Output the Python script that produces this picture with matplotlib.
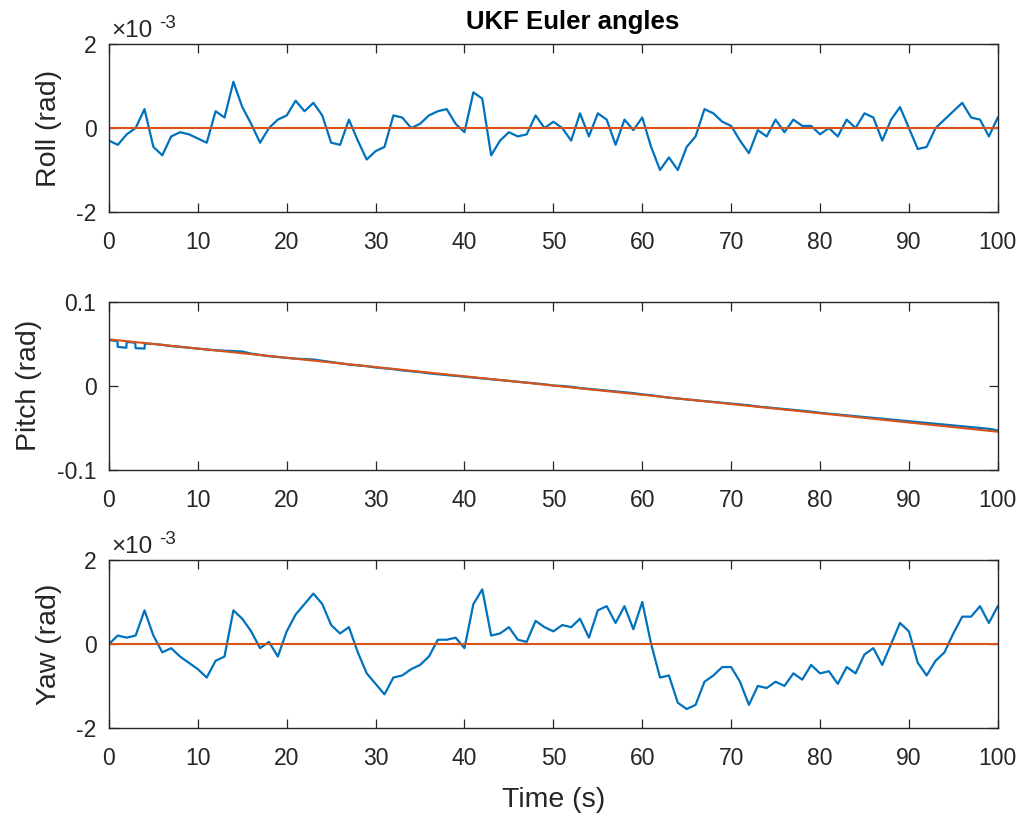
import numpy as np
import matplotlib
matplotlib.use('Agg')
import matplotlib.pyplot as plt

plt.rcParams['font.family'] = ['Liberation Sans', 'DejaVu Sans']

# time grid (s) for roll / yaw estimates, read at 1 s spacing
t_sec = list(range(0, 101))

# roll estimate, in units of 1e-3 rad
roll_est = [-0.3, -0.4, -0.15, 0.0, 0.45, -0.45, -0.65, -0.2, -0.1, -0.15,
            -0.25, -0.35, 0.4, 0.25, 1.1, 0.5, 0.1, -0.35, 0.0, 0.2,
            0.3, 0.65, 0.4, 0.6, 0.3, -0.35, -0.4, 0.2, -0.3, -0.75,
            -0.55, -0.45, 0.3, 0.25, 0.0, 0.1, 0.3, 0.4, 0.45, 0.1,
            -0.1, 0.85, 0.7, -0.65, -0.3, -0.1, -0.2, -0.15, 0.3, 0.0,
            0.15, 0.0, -0.3, 0.35, -0.2, 0.35, 0.2, -0.4, 0.2, -0.05,
            0.25, -0.45, -1.0, -0.7, -1.0, -0.45, -0.2, 0.45, 0.35, 0.15,
            0.05, -0.3, -0.6, -0.05, -0.2, 0.2, -0.1, 0.2, 0.05, 0.05,
            -0.15, 0.0, -0.2, 0.2, 0.0, 0.35, 0.25, -0.3, 0.2, 0.5,
            0.0, -0.5, -0.45, 0.0, 0.2, 0.4, 0.6, 0.25, 0.2, -0.2, 0.25]

# yaw estimate, in units of 1e-3 rad
yaw_est = [0.0, 0.2, 0.15, 0.2, 0.8, 0.2, -0.2, -0.1, -0.3, -0.45,
           -0.6, -0.8, -0.4, -0.3, 0.8, 0.6, 0.3, -0.1, 0.05, -0.3,
           0.3, 0.7, 0.95, 1.2, 0.95, 0.45, 0.25, 0.4, -0.2, -0.7,
           -0.95, -1.2, -0.8, -0.75, -0.6, -0.5, -0.3, 0.1, 0.1, 0.15,
           -0.1, 0.95, 1.3, 0.2, 0.25, 0.4, 0.1, 0.05, 0.55, 0.4,
           0.3, 0.45, 0.4, 0.6, 0.15, 0.8, 0.9, 0.5, 0.9, 0.35,
           1.0, 0.0, -0.8, -0.75, -1.4, -1.55, -1.45, -0.9, -0.75, -0.55,
           -0.55, -0.9, -1.45, -1.0, -1.05, -0.9, -1.0, -0.7, -0.85, -0.5,
           -0.7, -0.65, -0.95, -0.55, -0.7, -0.25, -0.1, -0.5, 0.0, 0.5,
           0.3, -0.45, -0.75, -0.4, -0.2, 0.25, 0.65, 0.65, 0.9, 0.5, 0.9]

# pitch estimate (rad); denser points at the start for the step glitches
t_pitch = [0, 0.95, 1.0, 1.95, 2.0, 2.95, 3.0, 4.0, 4.05] + list(range(5, 101))
pitch_est = [0.054, 0.053, 0.046, 0.045, 0.052, 0.051, 0.0445, 0.044, 0.050,
             0.0495, 0.0485, 0.047, 0.046, 0.045, 0.044, 0.043, 0.042, 0.0415, 0.041,
             0.0405, 0.038, 0.0365, 0.035, 0.034, 0.033, 0.032, 0.0315, 0.031, 0.0295,
             0.028, 0.0265, 0.025, 0.024, 0.023, 0.0215, 0.0205, 0.0195, 0.018, 0.017,
             0.016, 0.0145, 0.0135, 0.0125, 0.0115, 0.0105, 0.0095, 0.0085, 0.0075, 0.0065,
             0.0055, 0.0045, 0.0035, 0.0025, 0.0015, 0.0, -0.0005, -0.0015, -0.003, -0.004,
             -0.005, -0.006, -0.007, -0.008, -0.009, -0.0105, -0.0115, -0.013, -0.0145, -0.0155,
             -0.0165, -0.0175, -0.0185, -0.0195, -0.0205, -0.0215, -0.0225, -0.0235, -0.025, -0.026,
             -0.027, -0.028, -0.029, -0.03, -0.031, -0.0325, -0.0335, -0.0345, -0.0355, -0.0365,
             -0.0375, -0.0385, -0.0395, -0.0405, -0.0415, -0.0425, -0.0435, -0.0445, -0.0455, -0.0465,
             -0.0475, -0.0485, -0.0495, -0.0505, -0.0515, -0.0535]

# true angles
t_true = [0, 100]
roll_true = [0.0, 0.0]
pitch_true = [0.055, -0.055]
yaw_true = [0.0, 0.0]

BLUE = '#0072BD'
ORANGE = '#D95319'
AX_COL = '#262626'
TICK_FS = 16.5
LABEL_FS = 20.5

fig = plt.figure(figsize=(10.24, 8.17), dpi=100)
left, width, height = 0.1064, 0.868, 0.2056
bottoms = [0.7405, 0.4253, 0.1090]
axes = [fig.add_axes([left, b, width, height]) for b in bottoms]


def style(ax):
    ax.set_xlim(0, 100)
    ax.set_xticks(range(0, 101, 10))
    ax.tick_params(direction='in', length=6.5, width=0.9, top=True, right=True,
                   labelsize=TICK_FS, colors=AX_COL)
    ax.tick_params(axis='x', pad=14)
    ax.tick_params(axis='y', pad=9)
    for s in ax.spines.values():
        s.set_linewidth(1.0)
        s.set_color(AX_COL)


def exponent(ax):
    ax.text(0.003, 1.042, '\u00d710', transform=ax.transAxes, fontsize=17.5,
            color=AX_COL, ha='left', va='baseline')
    ax.text(0.057, 1.095, '-3', transform=ax.transAxes, fontsize=13.5,
            color=AX_COL, ha='left', va='baseline')


# roll
ax = axes[0]
ax.plot(t_sec, roll_est, color=BLUE, lw=1.6)
ax.plot(t_true, roll_true, color=ORANGE, lw=1.5)
ax.set_ylim(-2, 2)
ax.set_yticks([-2, 0, 2])
ax.set_yticklabels(['-2', '0', '2'])
style(ax)
exponent(ax)
ax.set_ylabel('Roll (rad)', fontsize=LABEL_FS, color=AX_COL, labelpad=10.5)
ax.set_title('UKF Euler angles', fontsize=18.5, fontweight='bold', color='black',
             pad=11, x=0.522)

# pitch
ax = axes[1]
ax.plot(t_pitch, pitch_est, color=BLUE, lw=1.6)
ax.plot(t_true, pitch_true, color=ORANGE, lw=1.5)
ax.set_ylim(-0.1, 0.1)
ax.set_yticks([-0.1, 0, 0.1])
ax.set_yticklabels(['-0.1', '0', '0.1'])
style(ax)
ax.set_ylabel('Pitch (rad)', fontsize=LABEL_FS, color=AX_COL, labelpad=10.5)

# yaw
ax = axes[2]
ax.plot(t_sec, yaw_est, color=BLUE, lw=1.6)
ax.plot(t_true, yaw_true, color=ORANGE, lw=1.5)
ax.set_ylim(-2, 2)
ax.set_yticks([-2, 0, 2])
ax.set_yticklabels(['-2', '0', '2'])
style(ax)
exponent(ax)
ax.set_ylabel('Yaw (rad)', fontsize=LABEL_FS, color=AX_COL, labelpad=10.5)
ax.set_xlabel('Time (s)', fontsize=LABEL_FS, color=AX_COL, labelpad=12)

fig.savefig('out.png', dpi=100)
